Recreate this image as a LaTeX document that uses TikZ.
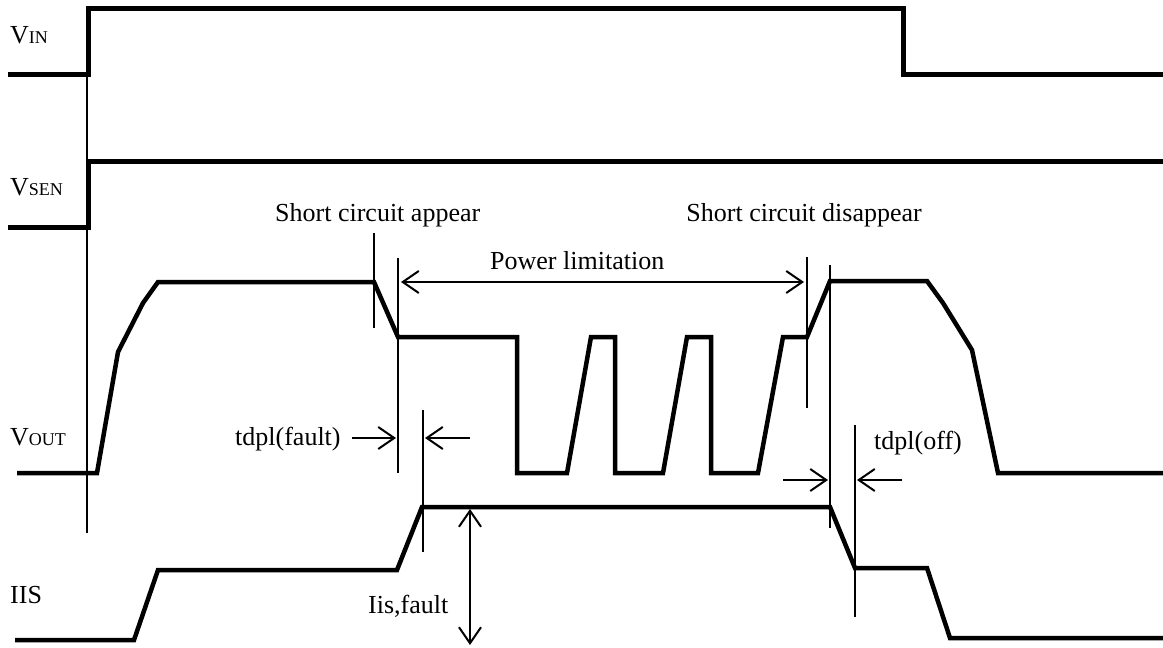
\documentclass[tikz,border=0pt]{standalone}
\usepackage{fontspec}
\setmainfont{Liberation Serif}
\usetikzlibrary{arrows.meta}
\newcommand{\signame}[2]{#1{\fontsize{18}{20}\selectfont #2}}

\begin{document}
\begin{tikzpicture}[
    x=1pt, y=-1pt,
    wave/.style={line width=5pt, line join=miter},
    edgeline/.style={line width=1.6pt},
    dim/.style={line width=2pt, -{Straight Barb[length=16pt,width=22pt]}},
    dimboth/.style={line width=2pt, {Straight Barb[length=16pt,width=22pt]}-{Straight Barb[length=16pt,width=22pt]}},
    lbl/.style={inner sep=0pt, font=\fontsize{26}{30}\selectfont}
    ]
\useasboundingbox (0,0) rectangle (1163,648);

% signal names
\node[lbl, anchor=base west] (vin)  at (10,43)  {\signame{V}{IN}};
\node[lbl, anchor=base west] (vsen) at (10,195) {\signame{V}{SEN}};
\node[lbl, anchor=base west] (vout) at (10,445) {\signame{V}{OUT}};
\node[lbl, anchor=base west] (iis)  at (10,603) {IIS};

% waveforms
\draw[wave] (8,74) -- (88,74) -- (88,8) -- (903,8) -- (903,74) -- (1163,74);
\draw[wave] (8,227) -- (88,227) -- (88,161) -- (1163,161);
\draw[wave, line width=4.5pt] (17,473) -- (97,473) -- (118,352) -- (143,303) -- (158,282)
    -- (374,282) -- (398,337) -- (517,337) -- (517,473) -- (567,473) -- (591,337)
    -- (615,337) -- (615,473) -- (663,473) -- (687,337) -- (711,337) -- (711,473)
    -- (758,473) -- (783,337) -- (807,337) -- (830,281) -- (927,281) -- (943,303)
    -- (972,350) -- (998,473) -- (1163,473);
\draw[wave, line width=4.5pt] (15,640) -- (134,640) -- (158,570) -- (397,570) -- (422,507)
    -- (830,507) -- (855,568) -- (927,568) -- (950,638) -- (1163,638);

% time markers
\coordinate (on1) at (87,74);   \coordinate (on2) at (87,533);
\coordinate (sc1) at (374,233); \coordinate (sc2) at (374,328);
\coordinate (fl1) at (398,258); \coordinate (fl2) at (398,473);
\coordinate (is1) at (423,410); \coordinate (is2) at (423,552);
\coordinate (sd1) at (807,257); \coordinate (sd2) at (807,408);
\coordinate (of1) at (830,265); \coordinate (of2) at (830,528);
\coordinate (or1) at (855,425); \coordinate (or2) at (855,617);
\foreach \m in {on,sc,fl,is,sd,of,or}
    \draw[edgeline] (\m1) -- (\m2);

% dimension arrows
\coordinate (pl1) at (401,282); \coordinate (pl2) at (804,282);
\draw[dimboth] (pl1) -- (pl2);
\coordinate (tf1) at (352,438); \coordinate (tf2) at (396,438);
\coordinate (tf3) at (470,438); \coordinate (tf4) at (425,438);
\draw[dim] (tf1) -- (tf2);
\draw[dim] (tf3) -- (tf4);
\coordinate (to1) at (783,480); \coordinate (to2) at (828,480);
\coordinate (to3) at (902,480); \coordinate (to4) at (857,480);
\draw[dim] (to1) -- (to2);
\draw[dim] (to3) -- (to4);
\coordinate (if1) at (470,509); \coordinate (if2) at (470,645);
\draw[dimboth] (if1) -- (if2);

% labels
\node[lbl, anchor=base west] (scap) at (275,221) {Short circuit appear};
\node[lbl, anchor=base east] (scdis) at (922,221) {Short circuit disappear};
\node[lbl, anchor=base west] (plim) at (490,269) {Power limitation};
\node[lbl, anchor=base west] (tdf) at (235,445) {tdpl(fault)};
\node[lbl, anchor=base west] (tdo) at (874,449) {tdpl(off)};
\node[lbl, anchor=base west] (iisf) at (368,613) {Iis,fault};
\end{tikzpicture}
\end{document}
